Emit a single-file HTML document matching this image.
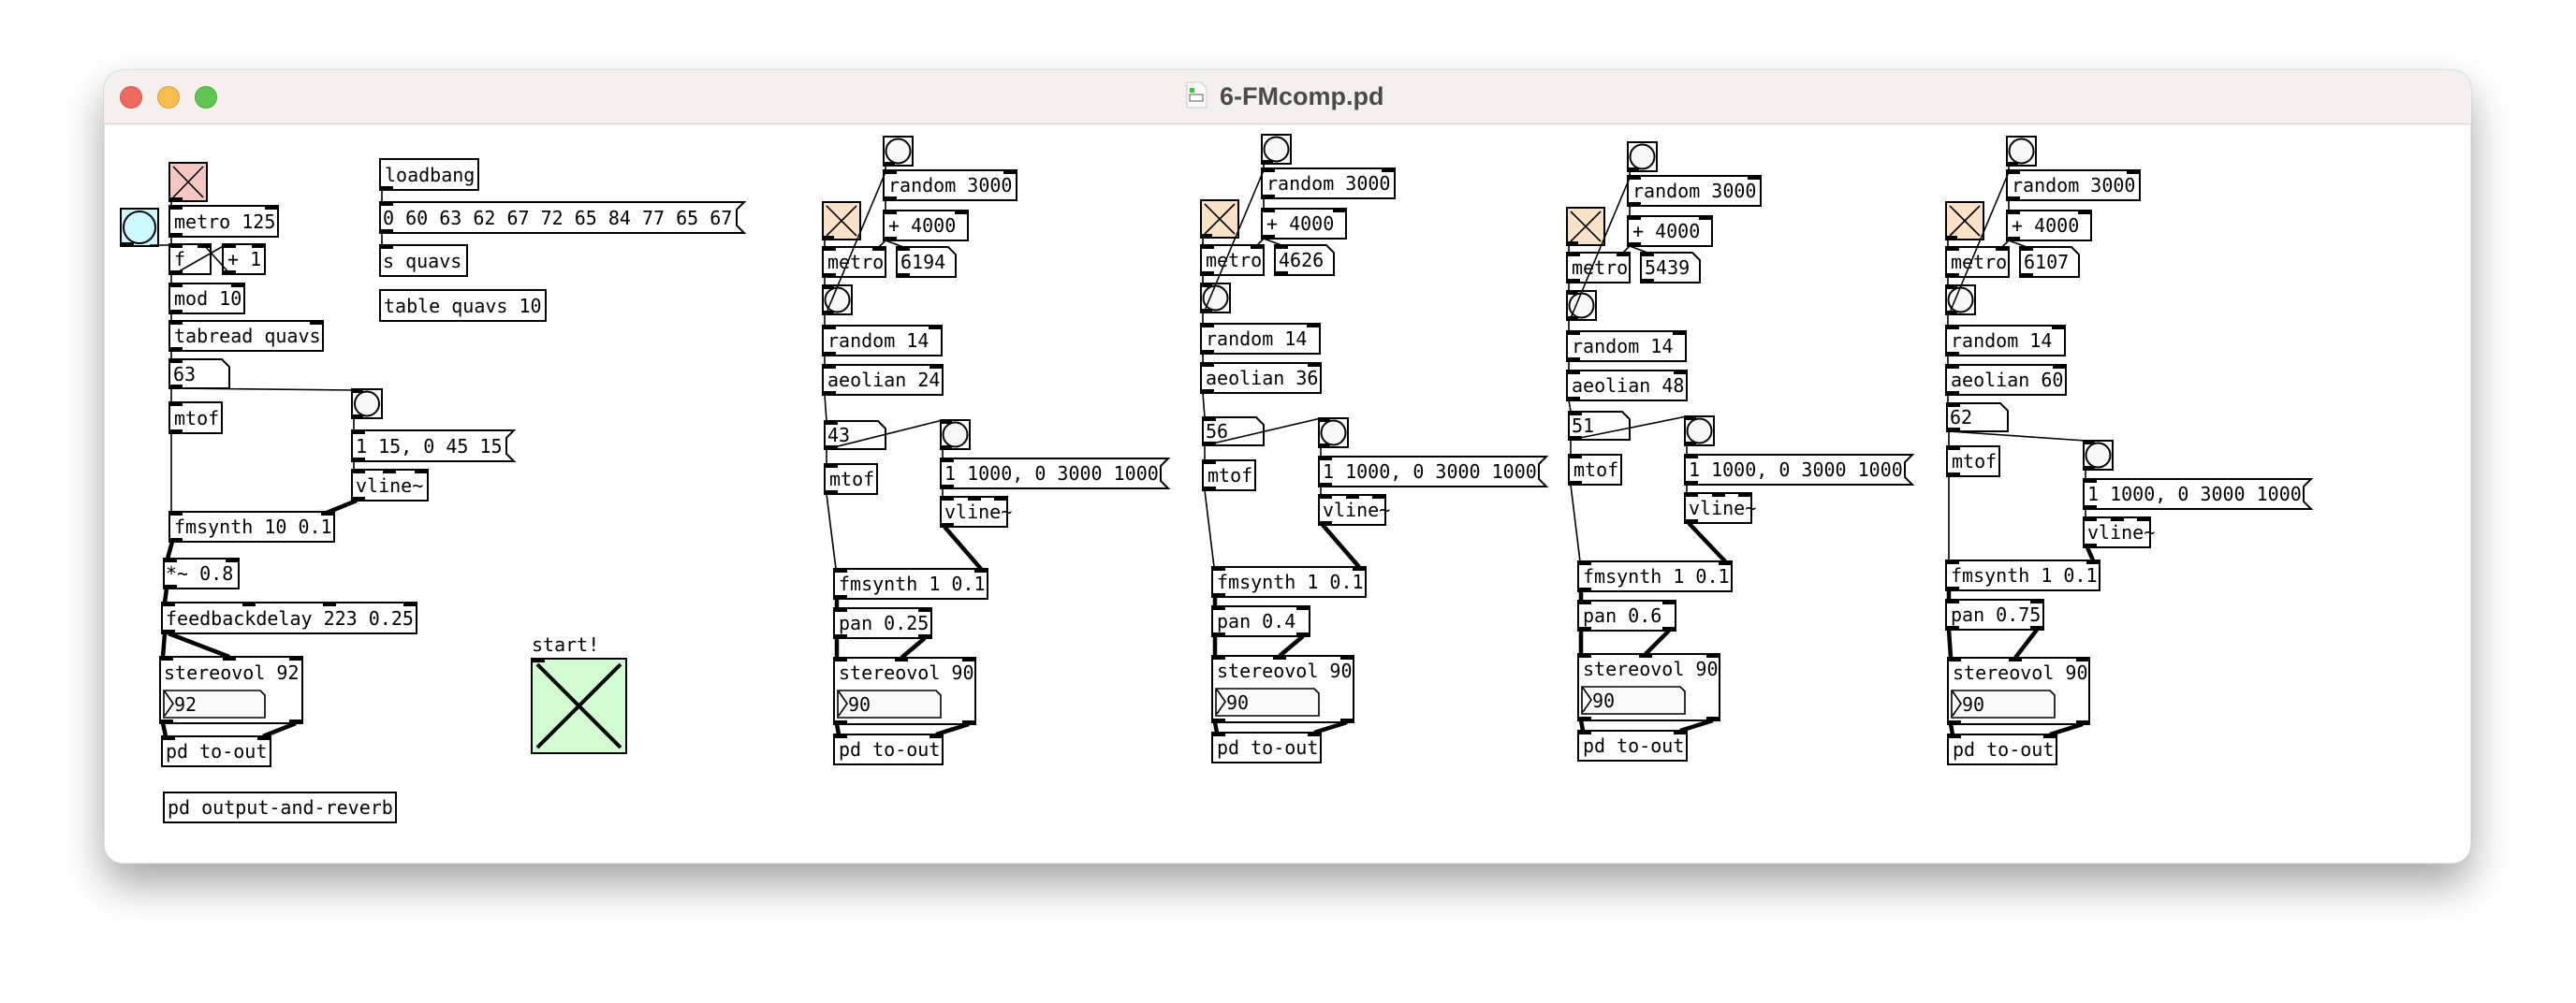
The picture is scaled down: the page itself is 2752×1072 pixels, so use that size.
<!DOCTYPE html>
<html><head><meta charset="utf-8">
<style>
html,body{margin:0;padding:0;background:#fff;width:2752px;height:1072px;overflow:hidden}
svg{position:absolute;left:0;top:0}
.b{fill:#fff;stroke:#000;stroke-width:2}
.t{font-family:"DejaVu Sans Mono","Liberation Mono",monospace;font-size:20px;fill:#000}
.c{stroke:#000;stroke-width:1.6;fill:none}
.s{stroke:#000;stroke-width:4.5;fill:none}
.io{fill:#000}
</style></head><body>
<svg width="2752" height="1072" viewBox="0 0 2752 1072" xmlns="http://www.w3.org/2000/svg">
<defs>
<filter id="sh" x="-5%" y="-10%" width="110%" height="130%"><feDropShadow dx="0" dy="22" stdDeviation="22" flood-color="#000" flood-opacity="0.35"/></filter>
<!-- column template groups (column A coordinates) -->
<g id="T">
  <rect class="b" x="944" y="146" width="31" height="31"/><circle cx="959.5" cy="161.5" r="13" fill="#f8f8f8" stroke="#000" stroke-width="2"/>
  <rect class="io" x="944" y="173" width="12" height="4"/>
  <rect class="b" x="944" y="182" width="142" height="32"/><rect class="io" x="944" y="182" width="14" height="4"/><rect class="io" x="1072" y="182" width="14" height="4"/><rect class="io" x="944" y="210" width="14" height="4"/>
  <text class="t" x="949" y="205">random 3000</text>
  <rect class="b" x="944" y="225" width="90" height="32"/><rect class="io" x="944" y="225" width="14" height="4"/><rect class="io" x="1020" y="225" width="14" height="4"/><rect class="io" x="944" y="253" width="14" height="4"/>
  <text class="t" x="949" y="248">+ 4000</text>
  <rect x="879" y="216" width="40" height="40" fill="#f9e2c8" stroke="#000" stroke-width="2"/><path d="M883 220L915 252M915 220L883 252" stroke="#000" stroke-width="1.6"/><rect class="io" x="879" y="252" width="12" height="4"/>
  <rect class="b" x="879" y="264" width="67" height="32"/><rect class="io" x="879" y="264" width="14" height="4"/><rect class="io" x="932" y="264" width="14" height="4"/><rect class="io" x="879" y="292" width="14" height="4"/>
  <text class="t" x="884" y="287">metro</text>
  <path class="b" d="M958 264H1013L1021 272V296H958Z"/><rect class="io" x="958" y="264" width="14" height="4"/><rect class="io" x="958" y="292" width="14" height="4"/>
  <rect class="b" x="879" y="305" width="31" height="31"/><circle cx="894.5" cy="320.5" r="13" fill="#f8f8f8" stroke="#000" stroke-width="2"/><rect class="io" x="879" y="305" width="12" height="4"/><rect class="io" x="879" y="332" width="12" height="4"/>
  <rect class="b" x="879" y="348" width="127" height="32"/><rect class="io" x="879" y="348" width="14" height="4"/><rect class="io" x="992" y="348" width="14" height="4"/><rect class="io" x="879" y="376" width="14" height="4"/>
  <text class="t" x="884" y="371">random 14</text>
  <rect class="b" x="879" y="390" width="128" height="32"/><rect class="io" x="879" y="390" width="14" height="4"/><rect class="io" x="993" y="390" width="14" height="4"/><rect class="io" x="879" y="418" width="14" height="4"/>
  <path class="c" d="M946 177V182M946 214V225M946 257L939 264M946 257L965 264M881 256V264M881 296V305M881 336V348M883 334L946 184M881 380V390"/>
</g>
<g id="N">
  <path class="b" d="M881 450H938L946 458V480H881Z"/><rect class="io" x="881" y="450" width="14" height="4"/><rect class="io" x="881" y="476" width="14" height="4"/>
  <rect class="b" x="881" y="496" width="56" height="32"/><rect class="io" x="881" y="496" width="14" height="4"/><rect class="io" x="881" y="524" width="14" height="4"/>
  <text class="t" x="886" y="519">mtof</text>
  <path class="c" d="M883 480V496"/>
</g>
<g id="M">
  <rect class="b" x="1005" y="449" width="31" height="31"/><circle cx="1020.5" cy="464.5" r="13" fill="#f8f8f8" stroke="#000" stroke-width="2"/><rect class="io" x="1005" y="449" width="12" height="4"/><rect class="io" x="1005" y="476" width="12" height="4"/>
  <path class="b" d="M1005 490H1248L1240 498V514L1248 522H1005Z"/><rect class="io" x="1005" y="490" width="14" height="4"/><rect class="io" x="1005" y="518" width="14" height="4"/>
  <text class="t" x="1009" y="513">1 1000, 0 3000 1000</text>
  <rect class="b" x="1005" y="531" width="71" height="32"/><rect class="io" x="1005" y="531" width="14" height="4"/><rect class="io" x="1034" y="531" width="14" height="4"/><rect class="io" x="1062" y="531" width="14" height="4"/><rect class="io" x="1005" y="559" width="14" height="4"/>
  <text class="t" x="1009" y="554">vline~</text>
  <path class="c" d="M1007 480V490M1007 522V531"/>
</g>
<g id="S">
  <rect class="b" x="891" y="608" width="164" height="32"/><rect class="io" x="891" y="608" width="14" height="4"/><rect class="io" x="1041" y="608" width="14" height="4"/><rect class="io" x="891" y="636" width="14" height="4"/>
  <text class="t" x="896" y="631">fmsynth 1 0.1</text>
  <rect class="b" x="891" y="650" width="104" height="32"/><rect class="io" x="891" y="650" width="14" height="4"/><rect class="io" x="981" y="650" width="14" height="4"/><rect class="io" x="891" y="678" width="14" height="4"/><rect class="io" x="981" y="678" width="14" height="4"/>
  <path class="s" d="M894 640V650"/>
</g>
<g id="V">
  <rect class="b" x="891" y="703" width="151" height="71"/><rect class="io" x="891" y="703" width="14" height="4"/><rect class="io" x="956" y="703" width="14" height="4"/><rect class="io" x="1028" y="703" width="14" height="4"/><rect class="io" x="891" y="770" width="14" height="4"/><rect class="io" x="1028" y="770" width="14" height="4"/>
  <text class="t" x="896" y="726">stereovol 90</text>
  <path d="M895 738H1000L1005 743V767H895Z" fill="#fafafa" stroke="#000" stroke-width="1.6"/><path d="M896 739L905 752L896 765" fill="none" stroke="#000" stroke-width="1.6"/>
  <text class="t" x="906" y="760">90</text>
  <rect class="b" x="891" y="785" width="116" height="32"/><rect class="io" x="891" y="785" width="14" height="4"/><rect class="io" x="993" y="785" width="14" height="4"/>
  <text class="t" x="896" y="808">pd to-out</text>
  <path class="s" d="M894 774L896 785M1035 774L1000 785"/>
</g>
</defs>

<!-- window -->
<rect x="111" y="75" width="2529" height="848" rx="20" fill="#fff" filter="url(#sh)"/>
<rect x="111" y="75" width="2529" height="848" rx="20" fill="#fff" stroke="#c8c8c8" stroke-width="1"/>
<path d="M111 132V95A20 20 0 0 1 131 75H2620A20 20 0 0 1 2640 95V132Z" fill="#f5f0ed"/>
<line x1="111" y1="132.5" x2="2640" y2="132.5" stroke="#dcd8d5" stroke-width="1.5"/>
<circle cx="140" cy="104" r="11.5" fill="#ec6a5e" stroke="#d15549" stroke-width="1"/>
<circle cx="180" cy="104" r="11.5" fill="#f4bf4f" stroke="#d6a13a" stroke-width="1"/>
<circle cx="220" cy="104" r="11.5" fill="#61c554" stroke="#4ba63f" stroke-width="1"/>
<path d="M1268 88H1283L1289 94V115H1268Z" fill="#fafafa" stroke="#ccc" stroke-width="1"/>
<rect x="1271" y="94" width="5" height="5" fill="#3c3"/>
<rect x="1271" y="101" width="14" height="7" fill="#fff" stroke="#333" stroke-width="0.8"/>
<text x="1303" y="112" font-family="'Liberation Sans',sans-serif" font-size="27" font-weight="bold" fill="#4a4a4a">6-FMcomp.pd</text>

<!-- left patch -->
<g>
  <rect x="181" y="174" width="40" height="41" fill="#f4c7c3" stroke="#000" stroke-width="2"/><path d="M185 178L217 211M217 178L185 211" stroke="#000" stroke-width="1.6"/><rect class="io" x="181" y="211" width="14" height="4"/>
  <rect x="129" y="223" width="40" height="40" fill="#ccfaff" stroke="#000" stroke-width="2"/><circle cx="149" cy="243" r="17" fill="#ccfaff" stroke="#000" stroke-width="2"/><rect class="io" x="129" y="259" width="14" height="4"/>
  <rect class="b" x="181" y="220" width="116" height="33"/><rect class="io" x="181" y="220" width="14" height="4"/><rect class="io" x="283" y="220" width="14" height="4"/><rect class="io" x="181" y="249" width="14" height="4"/>
  <text class="t" x="186" y="244">metro 125</text>
  <rect class="b" x="181" y="261" width="44" height="32"/><rect class="io" x="181" y="261" width="14" height="4"/><rect class="io" x="211" y="261" width="14" height="4"/><rect class="io" x="181" y="289" width="14" height="4"/>
  <text class="t" x="186" y="284">f</text>
  <rect class="b" x="238" y="261" width="45" height="32"/><rect class="io" x="238" y="261" width="14" height="4"/><rect class="io" x="269" y="261" width="14" height="4"/><rect class="io" x="238" y="289" width="14" height="4"/>
  <text class="t" x="243" y="284">+ 1</text>
  <rect class="b" x="181" y="303" width="80" height="32"/><rect class="io" x="181" y="303" width="14" height="4"/><rect class="io" x="247" y="303" width="14" height="4"/><rect class="io" x="181" y="331" width="14" height="4"/>
  <text class="t" x="186" y="326">mod 10</text>
  <rect class="b" x="181" y="343" width="164" height="32"/><rect class="io" x="181" y="343" width="14" height="4"/><rect class="io" x="331" y="343" width="14" height="4"/><rect class="io" x="181" y="371" width="14" height="4"/>
  <text class="t" x="186" y="366">tabread quavs</text>
  <path class="b" d="M181 384H237L245 392V415H181Z"/><rect class="io" x="181" y="384" width="14" height="4"/><rect class="io" x="181" y="411" width="14" height="4"/>
  <text class="t" x="185" y="407">63</text>
  <rect class="b" x="376" y="416" width="32" height="31"/><circle cx="392" cy="431.5" r="13" fill="#f8f8f8" stroke="#000" stroke-width="2"/><rect class="io" x="376" y="416" width="12" height="4"/><rect class="io" x="376" y="443" width="12" height="4"/>
  <rect class="b" x="181" y="430" width="56" height="33"/><rect class="io" x="181" y="430" width="14" height="4"/><rect class="io" x="181" y="459" width="14" height="4"/>
  <text class="t" x="186" y="454">mtof</text>
  <path class="b" d="M376 460H549L541 468V485L549 493H376Z"/><rect class="io" x="376" y="460" width="14" height="4"/><rect class="io" x="376" y="489" width="14" height="4"/>
  <text class="t" x="380" y="484">1 15, 0 45 15</text>
  <rect class="b" x="376" y="502" width="81" height="33"/><rect class="io" x="376" y="502" width="14" height="4"/><rect class="io" x="409" y="502" width="14" height="4"/><rect class="io" x="443" y="502" width="14" height="4"/><rect class="io" x="376" y="531" width="14" height="4"/>
  <text class="t" x="380" y="526">vline~</text>
  <rect class="b" x="181" y="547" width="176" height="32"/><rect class="io" x="181" y="547" width="14" height="4"/><rect class="io" x="343" y="547" width="14" height="4"/><rect class="io" x="181" y="575" width="14" height="4"/>
  <text class="t" x="186" y="570">fmsynth 10 0.1</text>
  <rect class="b" x="175" y="597" width="80" height="32"/><rect class="io" x="175" y="597" width="14" height="4"/><rect class="io" x="241" y="597" width="14" height="4"/><rect class="io" x="175" y="625" width="14" height="4"/>
  <text class="t" x="177" y="620">*~ 0.8</text>
  <rect class="b" x="173" y="644" width="272" height="33"/><rect class="io" x="173" y="644" width="14" height="4"/><rect class="io" x="259" y="644" width="14" height="4"/><rect class="io" x="345" y="644" width="14" height="4"/><rect class="io" x="431" y="644" width="14" height="4"/><rect class="io" x="173" y="673" width="14" height="4"/>
  <text class="t" x="177" y="668">feedbackdelay 223 0.25</text>
  <rect class="b" x="171" y="702" width="152" height="71"/><rect class="io" x="171" y="702" width="14" height="4"/><rect class="io" x="238" y="702" width="14" height="4"/><rect class="io" x="309" y="702" width="14" height="4"/><rect class="io" x="171" y="769" width="14" height="4"/><rect class="io" x="309" y="769" width="14" height="4"/>
  <text class="t" x="175" y="726">stereovol 92</text>
  <path d="M175 738H278L283 743V767H175Z" fill="#fafafa" stroke="#000" stroke-width="1.6"/><path d="M176 739L185 752L176 765" fill="none" stroke="#000" stroke-width="1.6"/>
  <text class="t" x="186" y="760">92</text>
  <rect class="b" x="173" y="787" width="116" height="32"/><rect class="io" x="173" y="787" width="14" height="4"/><rect class="io" x="275" y="787" width="14" height="4"/>
  <text class="t" x="177" y="810">pd to-out</text>
  <rect class="b" x="175" y="847" width="248" height="32"/>
  <text class="t" x="179" y="870">pd output-and-reverb</text>
  <text class="t" x="568" y="696">start!</text>
  <rect x="568" y="704" width="101" height="101" fill="#d2fcd2" stroke="#000" stroke-width="2"/><rect class="io" x="568" y="704" width="14" height="4"/>
  <path d="M574 710L663 799M663 710L574 799" stroke="#000" stroke-width="4"/>
  <rect class="b" x="406" y="170" width="105" height="33"/><rect class="io" x="406" y="199" width="14" height="4"/>
  <text class="t" x="411" y="194">loadbang</text>
  <path class="b" d="M406 216H795L787 224V241L795 249H406Z"/><rect class="io" x="406" y="216" width="14" height="4"/><rect class="io" x="406" y="245" width="14" height="4"/>
  <text class="t" x="409" y="240">0 60 63 62 67 72 65 84 77 65 67</text>
  <rect class="b" x="406" y="262" width="93" height="33"/><rect class="io" x="406" y="262" width="14" height="4"/>
  <text class="t" x="409" y="286">s quavs</text>
  <rect class="b" x="406" y="310" width="177" height="33"/>
  <text class="t" x="410" y="334">table quavs 10</text>
  <path class="c" d="M183 215V220M160 262H188M183 253V261M186 293L242 261M245 292L218 262M183 293V303M183 335V343M183 375V384M183 415V430M183 415L378 417M378 447V460M378 493V502M183 463V547M408 203V216M408 249V262"/>
  <path class="s" d="M381 535L349 548M184 579L179 597M178 629L176 644M176 677L174 702M180 677L245 702M174 773L177 787M316 773L281 787"/>
</g>

<!-- column A -->
<use href="#T"/><use href="#N"/><use href="#M"/><use href="#S"/><use href="#V"/>
<text class="t" x="884" y="413">aeolian 24</text>
<text class="t" x="962" y="287">6194</text>
<text class="t" x="884" y="472">43</text>
<text class="t" x="896" y="673">pan 0.25</text>
<path class="c" d="M881 422L883 450M883 480L1007 449M883 528L893 608"/>
<path class="s" d="M1009 563L1048 608M894 682V703M988 682L963 703"/>

<!-- column B -->
<g transform="translate(404,-2)"><use href="#T"/><use href="#M"/><use href="#S"/><use href="#V"/>
<text class="t" x="884" y="413">aeolian 36</text>
<text class="t" x="962" y="287">4626</text>
<text class="t" x="896" y="673">pan 0.4</text></g>
<g transform="translate(404,-4)"><use href="#N"/><text class="t" x="884" y="472">56</text></g>
<path class="c" d="M1285 420L1287 446M1287 476L1411 447M1287 524L1297 606"/>
<path class="s" d="M1413 561L1452 606M1298 680V701M1392 680L1367 701"/>

<!-- column C -->
<g transform="translate(795,6)"><use href="#T"/>
<text class="t" x="884" y="413">aeolian 48</text>
<text class="t" x="962" y="287">5439</text></g>
<g transform="translate(795,-10)"><use href="#N"/><text class="t" x="884" y="472">51</text></g>
<g transform="translate(795,-4)"><use href="#M"/></g>
<g transform="translate(795,-8)"><use href="#S"/><text class="t" x="896" y="673">pan 0.6</text></g>
<g transform="translate(795,-4)"><use href="#V"/></g>
<path class="c" d="M1676 428L1678 440M1678 470L1802 445M1678 518L1688 600"/>
<path class="s" d="M1804 559L1843 600M1689 674V699M1783 674L1758 699"/>

<!-- column D -->
<g transform="translate(1200,0)"><use href="#T"/>
<text class="t" x="884" y="413">aeolian 60</text>
<text class="t" x="962" y="287">6107</text></g>
<g transform="translate(1199,-19)"><use href="#N"/><text class="t" x="884" y="472">62</text></g>
<g transform="translate(1221,22)"><use href="#M"/></g>
<g transform="translate(1188,-9)"><use href="#S"/><text class="t" x="896" y="673">pan 0.75</text></g>
<g transform="translate(1190,0)"><use href="#V"/></g>
<path class="c" d="M2081 422V431M2082 461L2228 471M2082 509V599"/>
<path class="s" d="M2230 585L2236 599M2082 673L2084 703M2176 673L2153 703"/>
</svg>
</body></html>
